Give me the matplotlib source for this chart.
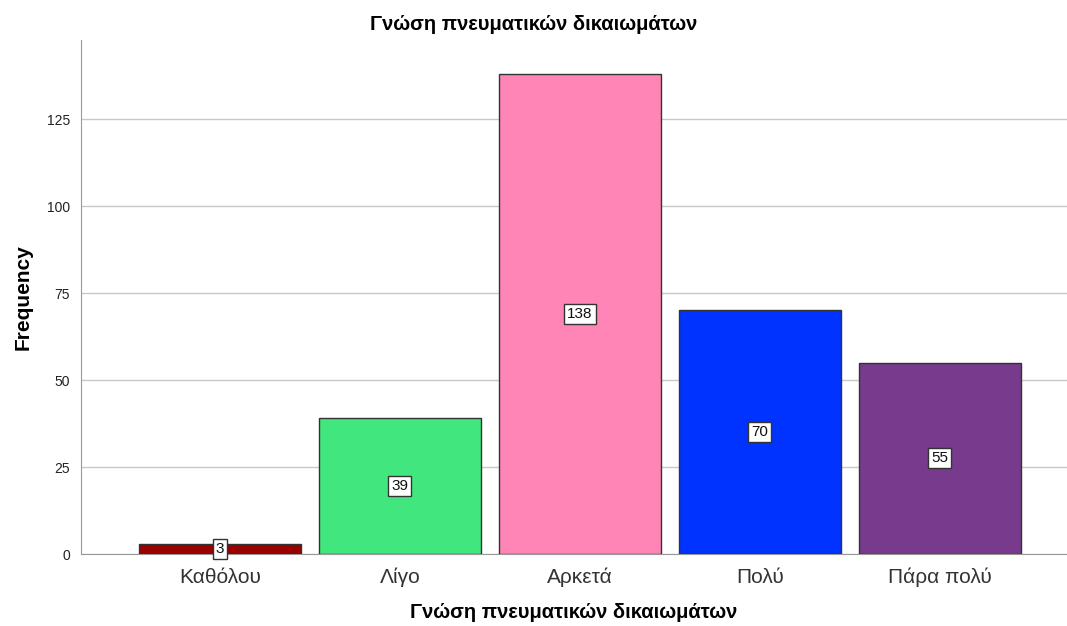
import matplotlib
matplotlib.use("Agg")
import matplotlib.pyplot as plt

# data
categories = ["Καθόλου", "Λίγο", "Αρκετά", "Πολύ", "Πάρα πολύ"]
counts = [3, 39, 138, 70, 55]
colors = ["#990000", "#41E77E", "#FF85B6", "#0033FF", "#773A8D"]
yticks = [0, 25, 50, 75, 100, 125]

plt.rcParams['font.family'] = ['Liberation Sans', 'DejaVu Sans']

fig = plt.figure(figsize=(10.67, 6.26), dpi=100)
ax = fig.add_axes([0.0759, 0.115, 0.9241, 0.821])

x = list(range(len(categories)))
bars = ax.bar(x, counts, width=0.9, color=colors, edgecolor="#333333", linewidth=1.0, zorder=3)

# value labels in the middle of each bar
for xi, c in zip(x, counts):
    ax.text(xi, c / 2, str(c), ha="center", va="center", fontsize=11, color="#111111", zorder=4,
            bbox=dict(boxstyle="square,pad=0.2", facecolor="white", edgecolor="#333333", linewidth=1.0))

ax.set_xlim(-0.772, 4.706)
ax.set_ylim(0, 147.7)
ax.set_yticks(yticks)
ax.set_xticks(x)
ax.set_xticklabels(categories, fontsize=15, color="#333333")
ax.tick_params(axis="y", labelsize=10, colors="#222222", length=0, pad=8)
ax.tick_params(axis="x", length=0, pad=10)
ax.yaxis.grid(True, color="#c8c8c8", linewidth=1.0, zorder=0)
ax.set_axisbelow(True)

for side in ["top", "right"]:
    ax.spines[side].set_visible(False)
ax.spines["left"].set_color("#999999")
ax.spines["bottom"].set_color("#999999")

fig.text(0.5, 1 - 25 / 626, "Γνώση πνευματικών δικαιωμάτων", fontsize=14.5, fontweight="bold",
         ha="center", va="center")
ax.set_xlabel("Γνώση πνευματικών δικαιωμάτων", fontsize=14.5, fontweight="bold", labelpad=11)
ax.set_ylabel("Frequency", fontsize=15, fontweight="bold", labelpad=10)

fig.savefig("out.png", dpi=100)
